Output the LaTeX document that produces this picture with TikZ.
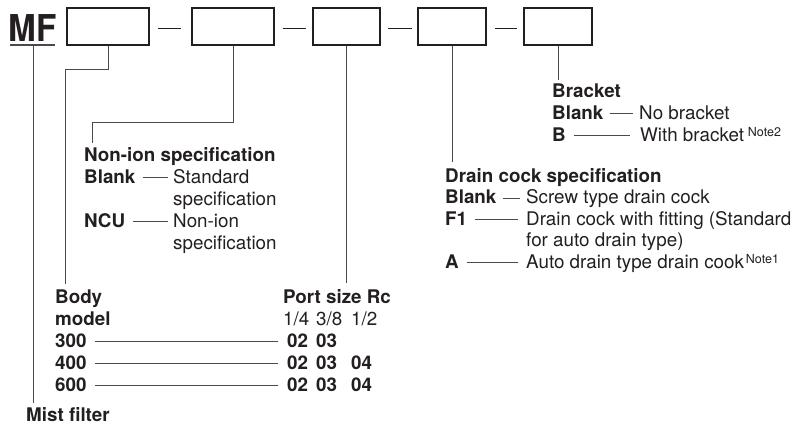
\documentclass[tikz,border=0pt]{standalone}
\usepackage{fontspec}
\setmainfont{TeX Gyre Heros}
\usetikzlibrary{calc}
\definecolor{ink}{HTML}{231F20}
\definecolor{wire}{HTML}{4A4A4A}
\begin{document}
\begin{tikzpicture}[x=1pt,y=-1pt,
  txt/.style={anchor=base west, inner sep=0pt, text=ink, font=\fontsize{18.8}{21.7}\selectfont},
  bt/.style={txt, font=\fontsize{18.8}{21.7}\selectfont\bfseries},
  note/.style={anchor=base west, inner sep=0pt, text=ink, font=\fontsize{12.5}{14}\selectfont},
  codebox/.style={draw=ink, line width=1.1pt, minimum height=37pt, inner sep=0pt},
  conn/.style={draw=wire, line width=0.9pt},
  dashline/.style={draw=ink, line width=0.9pt}
]
\useasboundingbox (0,0) rectangle (792,428);

% title
\node[anchor=base west, inner sep=0pt, text=ink, font=\fontsize{37}{37}\selectfont\bfseries] (mf) at (8.5,42) {\scalebox{0.9}[1]{MF}};
\coordinate (ulL) at (10,45);
\coordinate (ulR) at (55,45);
\draw[line width=1.4pt, draw=wire] (ulL) -- (ulR);

% boxes
\node[codebox, minimum width=82pt] (b1) at (108,26.5) {};
\node[codebox, minimum width=82pt] (b2) at (233,26.5) {};
\node[codebox, minimum width=67pt] (b3) at (346.5,26.5) {};
\node[codebox, minimum width=68pt] (b4) at (452,26.5) {};
\node[codebox, minimum width=68pt] (b5) at (558,26.5) {};

% dashes
\draw[dashline] ($(b1.east)+(8,1.5)$) -- ($(b2.west)+(-10,1.5)$);
\draw[dashline] ($(b2.east)+(8,1.5)$) -- ($(b3.west)+(-6,1.5)$);
\draw[dashline] ($(b3.east)+(7,1.5)$) -- ($(b4.west)+(-5,1.5)$);
\draw[dashline] ($(b4.east)+(8,1.5)$) -- ($(b5.west)+(-6,1.5)$);

% Bracket group
\node[bt] (brk) at (552,97) {Bracket};
\node[bt] (brkBlank) at (552,119) {Blank};
\node[txt] (brkNo) at (639,119) {No bracket};
\node[bt] (brkB) at (552,141) {B};
\node[txt] (brkWith) at (640,141) {With bracket};
\node[note] (note2) at ($(brkWith.base east)+(3.5,-4.5)$) {Note2};
\draw[conn] ($(brkBlank.base east)+(6,-5.5)$) -- ($(brkNo.base west)+(-6,-5.5)$);
\draw[conn] ($(brkB.base east)+(8,-5.5)$) -- ($(brkWith.base west)+(-10,-5.5)$);

% Drain cock group
\node[bt] (dc) at (445,182) {Drain cock specification};
\node[bt] (dcBlank) at (445,203.5) {Blank};
\node[txt] (dcScrew) at (526,203.5) {Screw type drain cock};
\node[bt] (dcF) at (445,225) {F1};
\node[txt] (dcFit) at (526,225) {Drain cock with fitting (Standard};
\node[txt] (dcFit2) at (526,246.5) {for auto drain type)};
\node[bt] (dcA) at (445,268) {A};
\node[txt] (dcAuto) at (526,268) {Auto drain type drain cook};
\node[note] (note1) at ($(dcAuto.base east)+(1.5,-4.5)$) {Note1};
\draw[conn] ($(dcBlank.base east)+(6,-5.5)$) -- ($(dcScrew.base west)+(-6,-5.5)$);
\draw[conn] ($(dcF.base east)+(8,-5.5)$) -- ($(dcFit.base west)+(-8,-5.5)$);
\draw[conn] ($(dcA.base east)+(8,-5.5)$) -- ($(dcAuto.base west)+(-8,-5.5)$);

% Non-ion group
\node[bt] (ni) at (84,161) {Non-ion specification};
\node[bt] (niBlank) at (84,183) {Blank};
\node[txt] (niStd) at (173,183) {Standard};
\node[txt] (niStd2) at (173,205) {specification};
\node[bt] (niNCU) at (84,227) {NCU};
\node[txt] (niNon) at (173,227) {Non-ion};
\node[txt] (niNon2) at (173,249) {specification};
\draw[conn] ($(niBlank.base east)+(7,-5.5)$) -- ($(niStd.base west)+(-5,-5.5)$);
\draw[conn] ($(niNCU.base east)+(8,-5.5)$) -- ($(niNon.base west)+(-5,-5.5)$);

% Body model group
\node[bt] (body) at (55,303) {Body};
\node[bt] (model) at (55,325) {model};
\node[bt] (m300) at (55,347) {300};
\node[bt] (m400) at (55,369) {400};
\node[bt] (m600) at (55,391) {600};

% Port size group
\node[bt] (port) at (283,303) {Port size Rc};
\node[txt] (p14) at (283,325) {1/4};
\node[txt] (p38) at (316,325) {3/8};
\node[txt] (p12) at (351,325) {1/2};
\node[bt] (r1a) at (287,347) {02};
\node[bt] (r1b) at (316,347) {03};
\node[bt] (r2a) at (287,369) {02};
\node[bt] (r2b) at (316,369) {03};
\node[bt] (r2c) at (351,369) {04};
\node[bt] (r3a) at (287,391) {02};
\node[bt] (r3b) at (316,391) {03};
\node[bt] (r3c) at (351,391) {04};
\draw[conn] ($(m300.base east)+(8,-6)$) -- ($(r1a.base west)+(-9,-6)$);
\draw[conn] ($(m400.base east)+(8,-6)$) -- ($(r2a.base west)+(-9,-6)$);
\draw[conn] ($(m600.base east)+(8,-6)$) -- ($(r3a.base west)+(-9,-6)$);

% Mist filter
\node[bt] (mist) at (26,421) {Mist filter};

% connectors from boxes
\coordinate (mfTop) at (33,45);
\coordinate (mfEnd) at (33,403);
\draw[conn] (mfTop) -- (mfEnd);

\coordinate (k1) at (65,69);
\coordinate (e1) at (65,284);
\draw[conn] (b1.south) |- (k1) -- (e1);

\coordinate (k2) at (92,122);
\coordinate (e2) at (92,143);
\draw[conn] (b2.south) |- (k2) -- (e2);

\coordinate (e3) at (346.5,283);
\draw[conn] (b3.south) -- (e3);

\coordinate (e4) at (452,162);
\draw[conn] (b4.south) -- (e4);

\coordinate (e5) at (558,80);
\draw[conn] (b5.south) -- (e5);
\end{tikzpicture}
\end{document}
